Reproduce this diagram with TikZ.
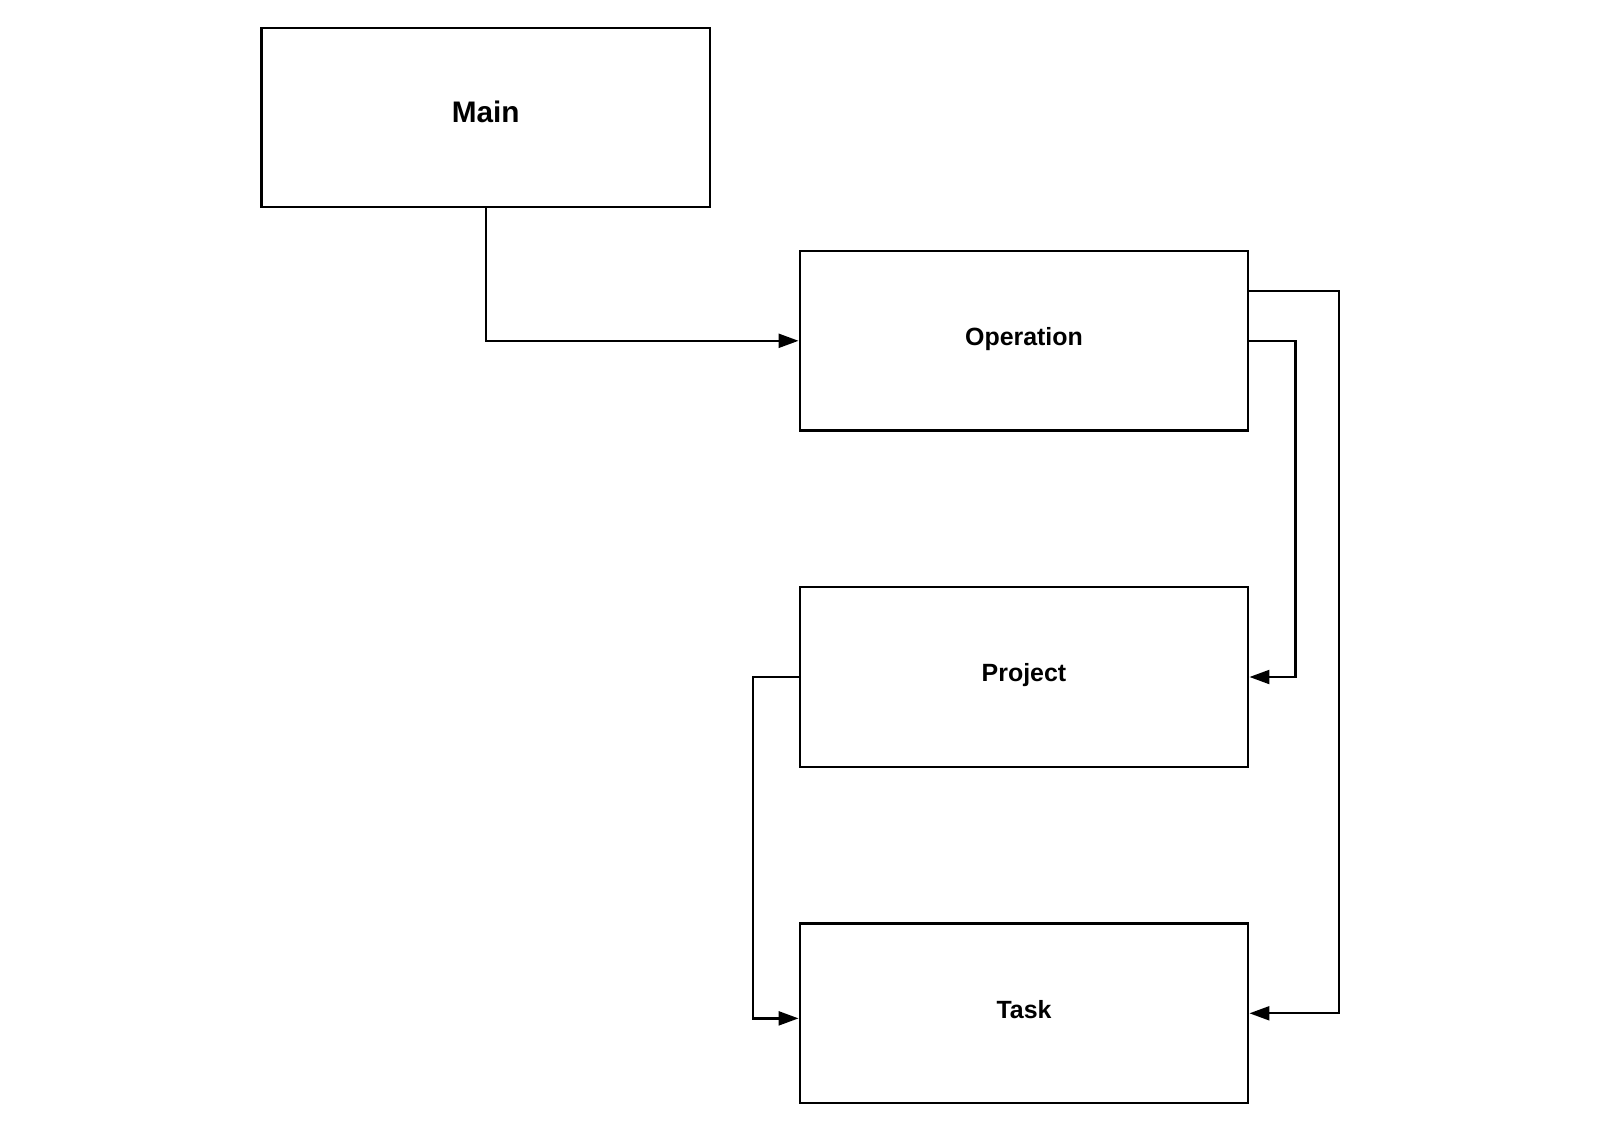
\documentclass[tikz,border=0pt]{standalone}
\usepackage{fontspec}
\setmainfont{Liberation Sans}
\usetikzlibrary{arrows.meta}
\begin{document}
\begin{tikzpicture}[x=0.75pt,y=-0.75pt,
  box/.style={draw=black, line width=1.7pt, fill=white, minimum width=336.5pt,
    minimum height=134.6pt, inner sep=0pt, font=\bfseries\fontsize{18.7}{18.7}\selectfont,
    text height=0.8em, text depth=0.08em},
  bigbox/.style={box, font=\bfseries\fontsize{22.3}{22.3}\selectfont},
  link/.style={draw=black, line width=1.7pt,
    -{Triangle[length=15pt,width=10.5pt]}}]
  \useasboundingbox (0,0) rectangle (1600,1131);

  % boxes
  \node[bigbox] (main) at (485.7,117.4) {Main};
  \node[box] (op)   at (1024,340.8) {Operation};
  \node[box] (proj) at (1024,677)   {Project};
  \node[box] (task) at (1024,1013.3) {Task};

  % connector end points off the box middles
  \coordinate (opup)   at ([yshift=37.5pt]op.east);
  \coordinate (tasklo) at ([yshift=-3.8pt]task.west);

  % connectors
  \draw[link] (main.south) |- (op.west);
  \draw[link] (op.east) -- ++(46,0) |- (proj.east);
  \draw[link] (opup) -- ++(89.5,0) |- (task.east);
  \draw[link] (proj.west) -- ++(-45.5,0) |- (tasklo);
\end{tikzpicture}
\end{document}
